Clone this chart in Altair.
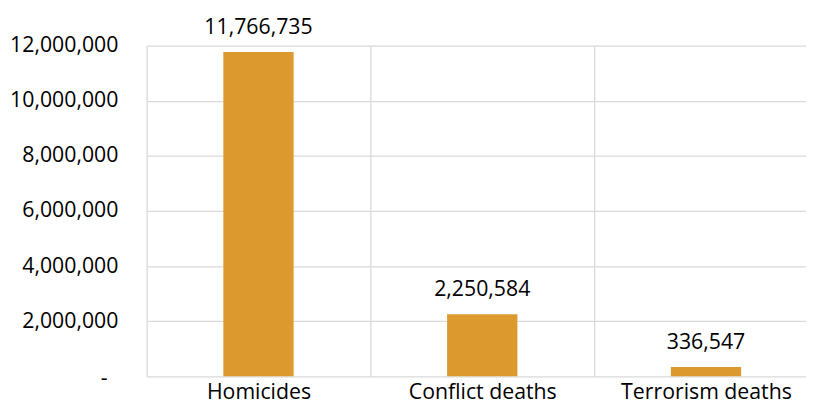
import altair as alt
import pandas as pd

categories = ["Homicides", "Conflict deaths", "Terrorism deaths"]
values = [11766735, 2250584, 336547]
y_ticks = [0, 2000000, 4000000, 6000000, 8000000, 10000000, 12000000]

df = pd.DataFrame({"category": categories, "value": values})
FONT = "Open Sans"
FS = 21.5

x = alt.X("category:N", sort=categories, title=None,
          scale=alt.Scale(range=[0, 678], paddingInner=0, paddingOuter=0),
          axis=alt.Axis(grid=True, tickBand="extent", gridColor="#D9D9D9", gridWidth=1.3,
                        domain=False, ticks=False, labelAngle=0, labelFont=FONT,
                        labelFontSize=FS, labelColor="#000000", labelPadding=5))
y = alt.Y("value:Q", title=None,
          scale=alt.Scale(domain=[0, 12000000], nice=False),
          axis=alt.Axis(values=y_ticks, grid=True, gridColor="#D9D9D9", gridWidth=1.3,
                        domain=False, ticks=False, labelFont=FONT, labelFontSize=FS,
                        labelColor="#000000",
                        labelPadding={"condition": {"test": "datum.value == 0", "value": 40},
                                      "value": 29},
                        labelOffset={"condition": {"test": "datum.value == 0", "value": 2},
                                     "value": 0},
                        labelExpr="datum.value == 0 ? '-' : format(datum.value, ',')"))

bars = alt.Chart(df).mark_bar(size=71, color="#DC9A2E").encode(x=x, y=y)
text = alt.Chart(df).mark_text(baseline="bottom", dy=-13, font=FONT, fontSize=FS,
                               color="#000000").encode(
    x=alt.X("category:N", sort=categories),
    y="value:Q",
    text=alt.Text("value:Q", format=","))

chart = (bars + text).properties(
    width=666, height=334,
    autosize=alt.AutoSizeParams(type="none"),
    padding={"left": 140, "top": 36, "right": 0, "bottom": 30},
).configure_view(stroke=None)

chart.save("out.html", embed_options={"renderer": "svg", "actions": False})
